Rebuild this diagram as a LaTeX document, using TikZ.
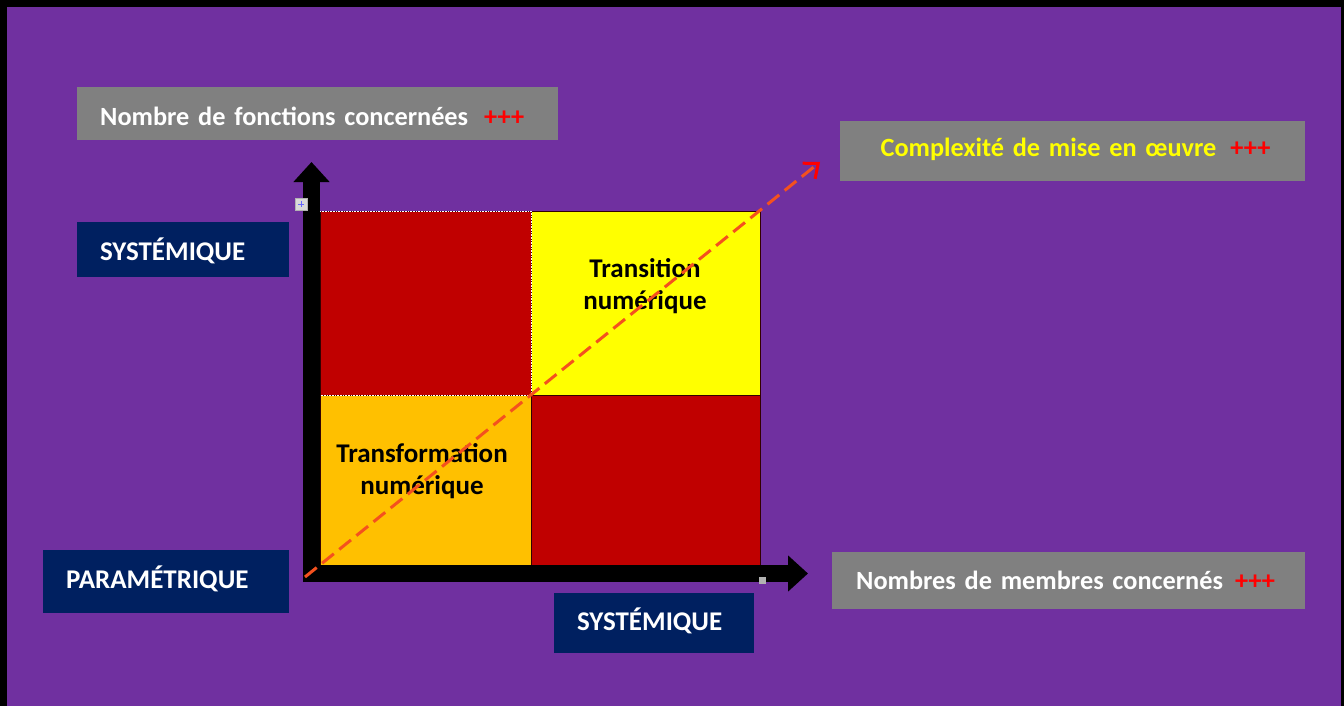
\documentclass[tikz,border=0pt]{standalone}
\usepackage{fontspec}
\setmainfont{Carlito}
\usepackage{xcolor}
\usetikzlibrary{arrows.meta,calc}
\definecolor{bgpurple}{HTML}{7030A0}
\definecolor{boxgray}{HTML}{808080}
\definecolor{boxnavy}{HTML}{002060}
\definecolor{cellred}{HTML}{C00000}
\definecolor{cellorange}{HTML}{FFC000}
\definecolor{cellyellow}{HTML}{FFFF00}
\definecolor{plusred}{HTML}{FF0000}
\definecolor{dashorange}{HTML}{F4511E}

\begin{document}
\begin{tikzpicture}[x=1pt,y=-1pt,
        labelfont/.style={font=\fontsize{27}{32}\selectfont\bfseries},
        baseshift/.style={text height=#1,text depth=0pt},
        graybox/.style={font=\fontsize{26.3}{32}\selectfont\bfseries,fill=boxgray,text=white,inner ysep=0pt,text width=#1},
        navybox/.style={labelfont,fill=boxnavy,text=white,align=left,inner xsep=23pt,inner ysep=0pt,text width=#1,anchor=west},
        axis/.style={line width=17pt,-{Triangle[width=35pt,length=20pt]}},
        cellline/.style={line width=0.8pt,draw=black!80!red}]
        % draw the background
        \fill[black] (0,0) rectangle (1344,706);
        \fill[bgpurple] (7,7) rectangle (1341,706);

        % draw the four quadrants
        \foreach \xa/\ya/\xb/\yb/\c in {
            320/211/531/395/cellred,
            531/211/760/395/cellyellow,
            320/395/531/565/cellorange,
            531/395/760/565/cellred}
                \filldraw[fill=\c,cellline] (\xa,\ya) rectangle (\xb,\yb);
        \draw[white,densely dotted,line width=0.6pt] (320,211) -- (531,211) -- (531,395) -- (320,395);

        % quadrant texts
        \node[labelfont,align=center] (transition) at (645,286) {Transition\\num\'erique};
        \node[labelfont,align=center] (transformation) at (422,471) {Transformation\\num\'erique};

        % draw the axes
        \coordinate (origin) at (303,573.5);
        \coordinate (ybase) at (311.5,582);
        \coordinate (ytip) at (311.5,162);
        \coordinate (xtip) at (808,573.5);
        \draw[axis] (ybase) -- (ytip);
        \draw[axis] (origin) -- (xtip);

        % small handles
        \filldraw[fill=gray!30,draw=gray!60,line width=0.5pt] (295,198) rectangle (307,210);
        \draw[blue!60,line width=0.6pt] (298,204) -- (304,204) (301,201) -- (301,207);
        \fill[gray!60] (759,577) rectangle (766,584);

        % the diagonal arrow
        \coordinate (dstart) at (305,577);
        \coordinate (dtip) at (820,162);
        \draw[dashorange,line width=3pt,dash pattern=on 15pt off 7pt,
              -{Straight Barb[plusred,length=12pt,width=20pt,line width=3pt]}] (dstart) -- (dtip);

        % the labels
        \node[graybox=435pt,align=left,inner xsep=23pt,anchor=west,minimum height=53pt,baseshift=25pt] (fonctions) at (77,113.5)
            {Nombre de fonctions concern\'ees\hspace{16pt}\textcolor{plusred}{+++}};
        \node[graybox=465pt,align=center,inner xsep=0pt,minimum height=60pt,baseshift=12pt,text=cellyellow] (complexite) at (1072.5,151)
            {\hspace*{6pt}Complexit\'e de mise en \oe uvre\hspace{14pt}\textcolor{plusred}{+++}};
        \node[graybox=425pt,align=left,inner xsep=24pt,anchor=west,minimum height=57pt,baseshift=18.6pt] (membres) at (832,580)
            {Nombres de membres concern\'es\hspace{12pt}\textcolor{plusred}{+++}};

        \node[navybox=166pt,minimum height=55pt,baseshift=22pt] (sysleft) at (77,249) {SYST\'EMIQUE};
        \node[navybox=200pt,minimum height=63pt,baseshift=14pt] (parametrique) at (43,581.5) {PARAM\'ETRIQUE};
        \node[navybox=154pt,minimum height=60pt,baseshift=15.4pt] (sysbottom) at (554,623) {SYST\'EMIQUE};
\end{tikzpicture}
\end{document}
